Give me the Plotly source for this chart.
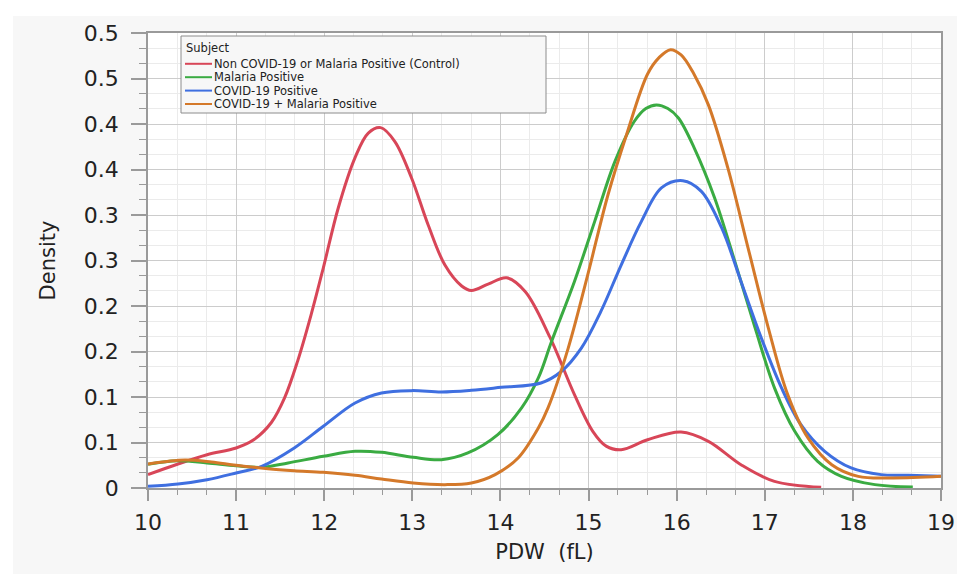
import plotly.graph_objects as go

# ---- data ----
series_names = [
    "Non COVID-19 or Malaria Positive (Control)",
    "Malaria Positive",
    "COVID-19 Positive",
    "COVID-19 + Malaria Positive",
]
series_colors = ["#d84658", "#3aab42", "#3f6fe0", "#d4792a"]

control_x = [10.0, 10.34, 10.67, 11.0, 11.2, 11.4, 11.55, 11.7, 11.85, 11.99, 12.16, 12.35, 12.5, 12.64,
             12.8, 12.99, 13.18, 13.37, 13.56, 13.67, 13.86, 14.07, 14.28, 14.56, 14.84, 15.05, 15.2, 15.37,
             15.67, 16.05, 16.36, 16.73, 17.11, 17.64]
control_y = [0.0147, 0.0264, 0.0366, 0.044, 0.053, 0.072, 0.099, 0.14, 0.19, 0.242, 0.308, 0.363, 0.39, 0.396,
             0.381, 0.341, 0.289, 0.245, 0.222, 0.217, 0.224, 0.231, 0.216, 0.166, 0.1026, 0.062, 0.046, 0.042,
             0.053, 0.0615, 0.0513, 0.0256, 0.0073, 0.0008]

malaria_x = [10.0, 10.34, 10.67, 11.0, 11.29, 11.59, 11.99, 12.35, 12.65, 13.01, 13.33, 13.63, 13.97, 14.24,
             14.43, 14.58, 14.84, 15.07, 15.3, 15.52, 15.65, 15.77, 15.9, 16.02, 16.2, 16.43, 16.66, 16.89, 17.11,
             17.34, 17.6, 17.87, 18.25, 18.68]
malaria_y = [0.026, 0.030, 0.0275, 0.0245, 0.0227, 0.0275, 0.0348, 0.0403, 0.0392, 0.0337, 0.0311, 0.0385, 0.0586, 0.088,
             0.121, 0.161, 0.227, 0.293, 0.359, 0.403, 0.417, 0.421, 0.417, 0.4066, 0.3736, 0.319, 0.249, 0.176, 0.110,
             0.0623, 0.0293, 0.0128, 0.0037, 0.001]

covid_x = [10.0, 10.34, 10.67, 11.0, 11.29, 11.66, 11.99, 12.35, 12.65, 12.99, 13.33, 13.67, 14.01, 14.46,
           14.69, 14.92, 15.14, 15.37, 15.6, 15.83, 16.07, 16.28, 16.51, 16.73, 16.96, 17.19, 17.41,
           17.68, 17.98, 18.32, 18.63, 19.0]
covid_y = [0.0018, 0.0044, 0.0091, 0.0165, 0.0238, 0.044, 0.0678, 0.0934, 0.1044, 0.107, 0.1055, 0.1073, 0.1106, 0.1154,
           0.128, 0.154, 0.194, 0.245, 0.293, 0.330, 0.3377, 0.326, 0.286, 0.227, 0.165, 0.110, 0.0696,
           0.0403, 0.022, 0.0147, 0.014, 0.0128]

combo_x = [10.0, 10.42, 10.72, 11.0, 11.36, 11.66, 11.99, 12.35, 12.65, 13.01, 13.37, 13.67, 13.94, 14.2,
           14.43, 14.54, 14.77, 14.99, 15.22, 15.43, 15.67, 15.8, 15.93, 16.05, 16.19, 16.36, 16.58, 16.81, 17.04,
           17.26, 17.49, 17.76, 18.06, 18.44, 19.0]
combo_y = [0.0264, 0.0308, 0.0286, 0.0249, 0.0212, 0.019, 0.0172, 0.014, 0.0099, 0.0055, 0.0037, 0.0055, 0.0147, 0.033,
           0.066, 0.088, 0.154, 0.234, 0.322, 0.388, 0.455, 0.473, 0.4817, 0.476, 0.456, 0.421, 0.352, 0.264, 0.176,
           0.1026, 0.055, 0.0256, 0.0128, 0.011, 0.0128]

x_ticks = [10, 11, 12, 13, 14, 15, 16, 17, 18, 19]
y_tickvals = [0, 0.05, 0.1, 0.15, 0.2, 0.25, 0.3, 0.35, 0.4, 0.45, 0.5]
y_ticktext = ["0", "0.1", "0.1", "0.2", "0.2", "0.3", "0.3", "0.4", "0.4", "0.5", "0.5"]

xs = [control_x, malaria_x, covid_x, combo_x]
ys = [control_y, malaria_y, covid_y, combo_y]

FONT = "DejaVu Sans"
fig = go.Figure()
for name, color, x, y in zip(series_names, series_colors, xs, ys):
    fig.add_trace(go.Scatter(x=x, y=y, mode="lines", name=name,
                             line=dict(color=color, width=3, shape="spline", smoothing=1.0),
                             showlegend=False))

# plot area in pixels: x 140..933, y 25..480
L, R, T, B = 140, 933, 25, 480
W, H = R - L, B - T
def px(xp):
    return (xp - L) / W
def py(yp):
    return (B - yp) / H

shapes = []
annotations = []
# outer white strips
shapes.append(dict(type="rect", xref="paper", yref="paper", x0=px(0), x1=px(965), y0=py(8), y1=py(0),
                   fillcolor="white", line=dict(width=0), layer="below"))
shapes.append(dict(type="rect", xref="paper", yref="paper", x0=px(0), x1=px(5), y0=py(574), y1=py(0),
                   fillcolor="white", line=dict(width=0), layer="below"))
# legend box
shapes.append(dict(type="rect", xref="paper", yref="paper", x0=px(173), x1=px(538), y0=py(105), y1=py(28),
                   fillcolor="#f7f7f7", line=dict(color="#8c8c8c", width=1)))
annotations.append(dict(xref="paper", yref="paper", x=px(176), y=py(40.5), text="Subject", showarrow=False,
                        xanchor="left", yanchor="middle", font=dict(family=FONT, size=11.5, color="#222")))
item_y = [55.8, 69.2, 82.6, 96.0]
for name, color, yy in zip(series_names, series_colors, item_y):
    shapes.append(dict(type="line", xref="paper", yref="paper", x0=px(177), x1=px(204), y0=py(yy), y1=py(yy),
                       line=dict(color=color, width=2)))
    annotations.append(dict(xref="paper", yref="paper", x=px(205), y=py(yy), text=name, showarrow=False,
                            xanchor="left", yanchor="middle", borderpad=0,
                            font=dict(family=FONT, size=11.5, color="#222")))

fig.update_layout(
    width=965, height=574,
    margin=dict(l=L, r=965 - R, t=T, b=574 - B, autoexpand=False),
    paper_bgcolor="#f7f7f7", plot_bgcolor="white",
    font=dict(family=FONT, color="#222"),
    shapes=shapes, annotations=annotations,
)
fig.update_xaxes(
    range=[10, 19], tickvals=x_ticks, ticktext=[str(v) for v in x_ticks], automargin=False,
    showgrid=True, gridcolor="#cccccc", gridwidth=1.3,
    showline=True, linecolor="#9a9a9a", linewidth=1.5, mirror=True,
    ticks="outside", ticklen=11, tickcolor="#9a9a9a", tickwidth=1.5,
    tickfont=dict(family=FONT, size=22, color="#222"), ticklabelstandoff=3,
    minor=dict(dtick=1/3, tick0=10, showgrid=True, gridcolor="#ebebeb", gridwidth=1,
               ticks="outside", ticklen=5, tickcolor="#9a9a9a", tickwidth=1.3),
    title=dict(text="PDW  (fL)", font=dict(family=FONT, size=21, color="#222"), standoff=10),
    zeroline=False,
)
fig.update_yaxes(
    range=[0, 0.5], tickvals=y_tickvals, ticktext=y_ticktext, automargin=False,
    showgrid=True, gridcolor="#cccccc", gridwidth=1.3,
    showline=True, linecolor="#9a9a9a", linewidth=1.5, mirror=True,
    ticks="outside", ticklen=15, tickcolor="#9a9a9a", tickwidth=1.5,
    tickfont=dict(family=FONT, size=22, color="#222"), ticklabelstandoff=8,
    minor=dict(dtick=0.05/3, tick0=0, showgrid=True, gridcolor="#ebebeb", gridwidth=1,
               ticks="outside", ticklen=7, tickcolor="#9a9a9a", tickwidth=1.3),
    title=dict(text="Density", font=dict(family=FONT, size=21, color="#222"), standoff=22),
    zeroline=False,
)

fig.write_html("out.html")
